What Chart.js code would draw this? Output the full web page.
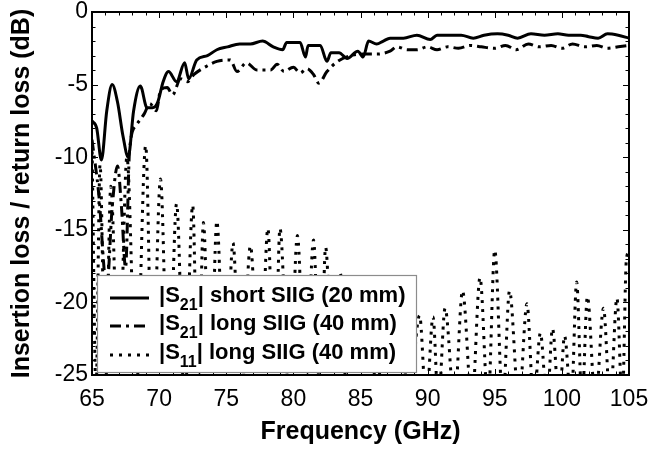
<!DOCTYPE html>
<html>
<head>
<meta charset="utf-8">
<script src="https://cdn.jsdelivr.net/npm/chart.js@4.4.1/dist/chart.umd.min.js"></script>
<style>
  body { margin: 0; background: #fff; }
  canvas { display: block; }
</style>
</head>
<body>
<canvas id="chart" width="649" height="449"></canvas>
<script>
// |S21| short SIIG (20 mm)
const freqShort = [65.0, 65.35, 65.7, 66.1, 66.5, 66.9, 67.3, 67.7, 68.1, 68.6, 69.1, 69.5, 69.9, 70.3, 70.7, 71.3, 71.9, 72.2, 72.8, 73.6,
  74.3, 75.1, 76.0, 76.8, 77.7, 78.5, 79.2, 79.5, 80.5, 80.9, 81.1, 82.0, 82.5, 82.8, 83.4, 84.0, 84.8, 85.2, 85.6, 86.2,
  86.7, 87.2, 88.2, 89.2, 90.2, 90.7, 91.7, 92.5, 93.4, 94.2, 95.2, 96.0, 96.7, 97.7, 98.7, 99.7, 100.5, 101.4, 102.0, 102.7,
  103.4, 104.2, 105.0]
const s21Short = [-7.5, -8.0, -10.2, -6.8, -5.0, -6.2, -8.5, -10.0, -6.8, -5.1, -6.6, -6.6, -6.2, -4.8, -4.1, -4.8, -3.5, -4.6, -3.3, -3.0,
  -2.6, -2.4, -2.2, -2.2, -2.0, -2.4, -2.6, -2.1, -2.1, -3.1, -2.3, -2.3, -3.4, -2.8, -2.8, -3.2, -2.7, -3.1, -2.0, -2.2,
  -2.0, -1.8, -1.8, -1.6, -1.9, -1.6, -1.6, -1.6, -1.8, -1.6, -1.5, -1.6, -1.8, -1.5, -1.6, -1.5, -1.6, -1.6, -1.7, -1.8,
  -1.5, -1.6, -1.8]

// |S21| long SIIG (40 mm)
const freqLong = [65.0, 65.5, 66.1, 66.5, 66.9, 67.2, 67.5, 67.8, 68.3, 68.9, 69.3, 69.8, 70.1, 70.6, 71.0, 71.6, 72.1, 72.6, 73.6, 74.3,
  75.3, 75.8, 76.5, 77.3, 78.3, 78.8, 79.3, 80.0, 80.5, 81.0, 81.5, 81.9, 82.5, 83.3, 84.3, 85.2, 86.2, 87.2, 87.7, 88.5,
  89.2, 90.0, 90.7, 91.5, 92.3, 93.2, 94.0, 95.0, 95.8, 96.6, 97.5, 98.3, 99.2, 100.0, 100.8, 101.7, 102.6, 103.4, 104.2, 105.0]
const s21Long = [-8.8, -12.5, -19.0, -13.5, -10.6, -13.5, -17.6, -9.5, -7.8, -7.0, -6.3, -6.8, -5.4, -5.2, -5.7, -4.6, -4.8, -4.3, -3.7, -3.4,
  -3.3, -4.1, -3.5, -4.0, -4.0, -3.6, -4.1, -3.8, -4.2, -3.9, -4.3, -4.9, -4.1, -3.4, -3.0, -2.9, -2.9, -2.7, -2.4, -2.6,
  -2.6, -2.4, -2.6, -2.4, -2.5, -2.3, -2.4, -2.5, -2.3, -2.6, -2.2, -2.4, -2.3, -2.5, -2.2, -2.4, -2.3, -2.5, -2.4, -2.3]

// |S11| long SIIG (40 mm), peaks and dips of the ripple
const freqS11 = [65.0, 65.3, 65.6, 66.0, 66.4, 67.0, 67.6, 68.3, 69.0, 69.5, 70.1, 70.7, 71.3, 71.9, 72.5, 72.9, 73.3, 73.8, 74.3, 74.9,
  75.5, 76.1, 76.8, 77.5, 78.1, 78.6, 79.0, 79.7, 80.3, 80.9, 81.5, 82.0, 82.4, 83.0, 83.5, 84.0, 84.6, 85.1, 85.7, 86.2,
  86.8, 87.3, 87.9, 88.6, 89.4, 89.9, 90.4, 90.8, 91.3, 92.0, 92.6, 93.3, 93.9, 94.5, 95.0, 95.6, 96.1, 96.8, 97.4, 97.9,
  98.4, 98.9, 99.3, 99.8, 100.2, 100.7, 101.1, 101.5, 101.9, 102.5, 103.1, 103.6, 104.1, 104.5, 104.8, 105.0]
const s11Long = [-9.0, -26, -10.5, -26, -12.0, -26, -10.0, -26, -9.2, -26, -11.5, -27, -13.2, -27, -13.3, -27, -14.5, -27, -14.4, -27,
  -15.9, -27, -16.1, -27, -14.9, -27, -14.9, -27, -15.4, -27, -15.7, -27, -16.2, -27, -18.0, -27, -19.0, -27, -19.5, -27,
  -20.0, -27, -20.5, -27, -20.9, -27, -21.0, -27, -20.4, -27, -19.2, -27, -18.3, -27, -16.4, -27, -19.2, -27, -20.1, -27,
  -22.1, -27, -21.8, -27, -22.3, -27, -18.6, -27, -19.6, -27, -20.4, -27, -19.7, -27, -17.1, -16.5]

const xTicks = [65, 70, 75, 80, 85, 90, 95, 100, 105]
const yTicks = [0, -5, -10, -15, -20, -25]

const FONT = "'Liberation Sans', Arial, sans-serif"

function toPoints(xs, ys) {
  return xs.map((x, i) => ({ x: x, y: ys[i] }))
}

const seriesStyles = [
  { label: "short SIIG (20 mm)", sub: "21", dash: [] },
  { label: "long SIIG (40 mm)", sub: "21", dash: [11, 5, 3, 5] },
  { label: "long SIIG (40 mm)", sub: "11", dash: [3, 6] }
]

// frame with inward major and minor ticks on all four sides
const framePlugin = {
  id: "frame",
  afterDatasetsDraw(chart) {
    let { ctx, chartArea: a, scales } = chart
    ctx.save()
    ctx.strokeStyle = "#000"
    ctx.lineWidth = 2
    ctx.strokeRect(a.left, a.top, a.right - a.left, a.bottom - a.top)
    ctx.lineWidth = 1
    ctx.beginPath()
    for (let v = 65; v <= 105; v++) {
      let px = Math.round(scales.x.getPixelForValue(v)) + 0.5
      let len = (v % 5 === 0) ? 6 : 3.5
      ctx.moveTo(px, a.bottom); ctx.lineTo(px, a.bottom - len)
      ctx.moveTo(px, a.top); ctx.lineTo(px, a.top + len)
    }
    for (let v = -25; v <= 0; v++) {
      let py = Math.round(scales.y.getPixelForValue(v)) + 0.5
      let len = (v % 5 === 0) ? 6 : 3.5
      ctx.moveTo(a.left, py); ctx.lineTo(a.left + len, py)
      ctx.moveTo(a.right, py); ctx.lineTo(a.right - len, py)
    }
    ctx.stroke()
    ctx.restore()
  }
}

// legend box with subscripted S-parameter names
const legendPlugin = {
  id: "sLegend",
  afterDraw(chart) {
    let { ctx, chartArea: a } = chart
    let bx = a.left + 5, by = a.top + 263, bw = 319, bh = 97
    ctx.save()
    ctx.fillStyle = "#fff"
    ctx.fillRect(bx, by, bw, bh)
    ctx.strokeStyle = "#8c8c8c"
    ctx.lineWidth = 1.2
    ctx.strokeRect(bx + 0.5, by + 0.5, bw, bh)
    let rows = [by + 21, by + 49, by + 78]
    seriesStyles.forEach((s, i) => {
      let y = rows[i]
      ctx.strokeStyle = "#000"
      ctx.lineWidth = 3
      ctx.lineCap = "butt"
      ctx.setLineDash(s.dash)
      ctx.beginPath()
      ctx.moveTo(bx + 13, y + 2)
      ctx.lineTo(bx + 52, y + 2)
      ctx.stroke()
      ctx.setLineDash([])
      ctx.fillStyle = "#000"
      ctx.textBaseline = "middle"
      let tx = bx + 62
      ctx.font = "bold 22px " + FONT
      ctx.fillText("|S", tx, y)
      tx += ctx.measureText("|S").width
      ctx.font = "bold 16px " + FONT
      ctx.fillText(s.sub, tx, y + 10)
      tx += ctx.measureText(s.sub).width
      ctx.font = "bold 22px " + FONT
      ctx.fillText("| " + s.label, tx, y)
    })
    ctx.restore()
  }
}

new Chart(document.getElementById("chart"), {
  type: "scatter",
  data: {
    datasets: [
      {
        label: "|S21| short SIIG (20 mm)",
        data: toPoints(freqShort, s21Short),
        showLine: true, borderColor: "#000", borderWidth: 3, pointRadius: 0,
        cubicInterpolationMode: "monotone"
      },
      {
        label: "|S21| long SIIG (40 mm)",
        data: toPoints(freqLong, s21Long),
        showLine: true, borderColor: "#000", borderWidth: 3, pointRadius: 0,
        borderDash: seriesStyles[1].dash, cubicInterpolationMode: "monotone"
      },
      {
        label: "|S11| long SIIG (40 mm)",
        data: toPoints(freqS11, s11Long),
        showLine: true, borderColor: "#000", borderWidth: 3, pointRadius: 0,
        borderDash: seriesStyles[2].dash, cubicInterpolationMode: "monotone"
      }
    ]
  },
  options: {
    responsive: false,
    animation: false,
    events: [],
    layout: { padding: { top: 12, right: 20, left: 0, bottom: 0 } },
    plugins: { legend: { display: false }, tooltip: { enabled: false } },
    scales: {
      x: {
        type: "linear", min: 65, max: 105,
        afterBuildTicks: (s) => { s.ticks = xTicks.map(v => ({ value: v })) },
        afterFit: (s) => { s.height = 74; s.paddingLeft = 0; s.paddingRight = 0 },
        grid: { display: false, drawTicks: false }, border: { display: false },
        ticks: { color: "#000", padding: 11, maxRotation: 0, font: { family: FONT, size: 23 } },
        title: { display: true, text: "Frequency (GHz)", color: "#000", padding: { top: 0, bottom: 2 },
          font: { family: FONT, size: 25, weight: "bold" } }
      },
      y: {
        type: "linear", min: -25, max: 0,
        afterBuildTicks: (s) => { s.ticks = yTicks.map(v => ({ value: v })) },
        afterFit: (s) => { s.width = 92; s.paddingTop = 0; s.paddingBottom = 0 },
        grid: { display: false, drawTicks: false }, border: { display: false },
        ticks: { color: "#000", padding: 4, font: { family: FONT, size: 23 } },
        title: { display: true, text: "Insertion loss / return loss (dB)", color: "#000", padding: { top: 7, bottom: 0 },
          font: { family: FONT, size: 25, weight: "bold" } }
      }
    }
  },
  plugins: [framePlugin, legendPlugin]
})
</script>
</body>
</html>
